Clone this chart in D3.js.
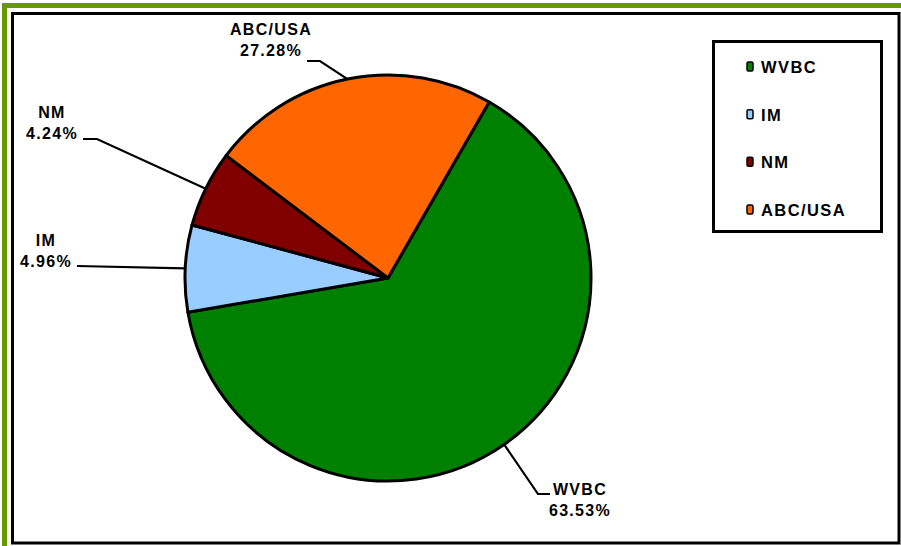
<!DOCTYPE html>
<html><head><meta charset="utf-8">
<script src="https://cdn.jsdelivr.net/npm/d3@7"></script>
<style>
html,body{margin:0;padding:0;background:#fff;}
svg{display:block;}
text{font-family:"Liberation Sans",Arial,sans-serif;font-weight:bold;font-size:16px;letter-spacing:1.3px;fill:#000;}
.leg text{font-size:16.5px;letter-spacing:1.4px;}
</style></head>
<body>
<svg id="chart" width="901" height="546"></svg>
<script>
// Data (slice shares as drawn, and the printed data labels)
const categories = ["WVBC", "IM", "NM", "ABC/USA"];
const shares = [64.0, 6.9, 6.1, 23.0];
const percentLabels = ["63.53%", "4.96%", "4.24%", "27.28%"];
const colors = ["#008000", "#99CCFF", "#800000", "#FF6600"];

const svg = d3.select("#chart");
const W = 901, H = 546;

// outer green frame (left & top)
svg.append("rect").attr("x", 2).attr("y", 3).attr("width", 5).attr("height", H - 3).attr("fill", "#669900");
svg.append("rect").attr("x", 2).attr("y", 3).attr("width", W - 2).attr("height", 5).attr("fill", "#669900");
// inner black border
svg.append("rect").attr("x", 12.5).attr("y", 13.5).attr("width", 886.5).attr("height", 529.5)
  .attr("fill", "#fff").attr("stroke", "#000").attr("stroke-width", 3);

const cx = 388, cy = 278, r = 203;
const startA = 29.9 * Math.PI / 180;
const pie = d3.pie().sort(null).value(d => d.v).startAngle(startA).endAngle(startA + 2 * Math.PI);
const data = categories.map((c, i) => ({ c, v: shares[i], lab: percentLabels[i], col: colors[i] }));
const arcs = pie(data);
const arc = d3.arc().innerRadius(0).outerRadius(r);
const edge = d3.arc().innerRadius(r).outerRadius(r);

const g = svg.append("g").attr("transform", `translate(${cx},${cy})`);
g.selectAll("path.slice").data(arcs).enter().append("path")
  .attr("class", "slice")
  .attr("d", arc)
  .attr("fill", d => d.data.col)
  .attr("stroke", "#000").attr("stroke-width", 3).attr("stroke-linejoin", "round");

// label layout (elbow / end of leader, text anchor and first baseline)
const labelLayout = {
  "WVBC":    { pts: [[538, 494], [550, 494]], tx: 580, ty: 495 },
  "IM":      { pts: [[77, 266]], tx: 46, ty: 246 },
  "NM":      { pts: [[97, 139], [83, 139]], tx: 52, ty: 118 },
  "ABC/USA": { pts: [[320, 61], [307, 61]], tx: 271, ty: 35 }
};

arcs.forEach(a => {
  const L = labelLayout[a.data.c];
  const e = edge.centroid(a);
  const pts = [[cx + e[0], cy + e[1]]].concat(L.pts);
  svg.append("path").attr("d", d3.line()(pts)).attr("fill", "none")
    .attr("stroke", "#000").attr("stroke-width", 2.2);
  const t = svg.append("text").attr("text-anchor", "middle");
  t.append("tspan").attr("x", L.tx).attr("y", L.ty).text(a.data.c);
  t.append("tspan").attr("x", L.tx).attr("y", L.ty + 20.5).text(a.data.lab);
});

// legend
const lg = svg.append("g").attr("class", "leg");
lg.append("rect").attr("x", 713.5).attr("y", 41.5).attr("width", 168).attr("height", 190)
  .attr("fill", "#fff").attr("stroke", "#000").attr("stroke-width", 3);
const ly = d3.scalePoint().domain(categories).range([73, 216]);
categories.forEach((c, i) => {
  lg.append("rect").attr("x", 747).attr("y", ly(c) - 11).attr("width", 6).attr("height", 9)
    .attr("rx", 1.5).attr("fill", colors[i]).attr("stroke", "#000").attr("stroke-width", 1.5);
  lg.append("text").attr("x", 761).attr("y", ly(c)).text(c);
});
</script>
</body></html>
